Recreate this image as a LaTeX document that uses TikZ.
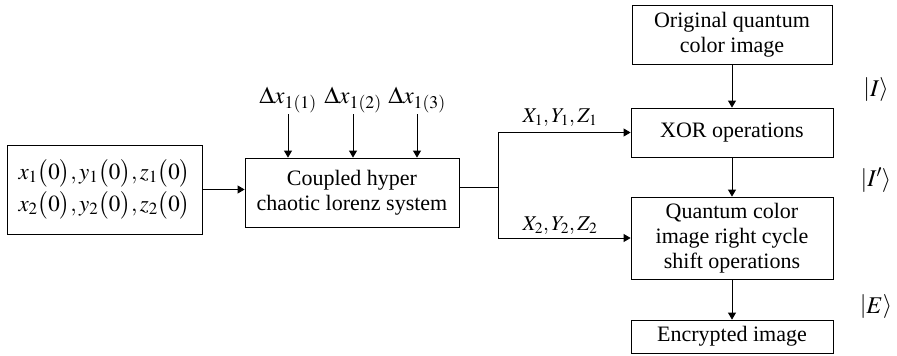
\documentclass[tikz,border=0pt]{standalone}
\usepackage{fix-cm}
\usepackage{mathptmx}
\usepackage{fontspec}
\setmainfont{Liberation Serif}
\usetikzlibrary{arrows.meta}

\begin{document}
\begin{tikzpicture}[x=1pt,y=-1pt,
  >={Triangle[length=7pt,width=8pt]},
  line width=0.8pt,
  box/.style={draw,inner sep=0pt,align=center,font=\fontsize{22}{25}\selectfont},
  lab/.style={inner sep=1pt,font=\fontsize{24}{26}\selectfont},
  sublab/.style={inner sep=1pt,font=\fontsize{21}{24}\selectfont}]
\useasboundingbox (0,0) rectangle (897,356);

\node[box,minimum width=195pt,minimum height=89pt,font=\fontsize{23}{26}\selectfont] (init) at (104.5,189.5)
  {$x_1\bigl(0\bigr),y_1\bigl(0\bigr),z_1\bigl(0\bigr)$\\[3pt]
   $x_2\bigl(0\bigr),y_2\bigl(0\bigr),z_2\bigl(0\bigr)$};
\node[box,minimum width=214pt,minimum height=69pt] (lorenz) at (352,192.5)
  {Coupled hyper\\chaotic lorenz system};
\node[box,minimum width=200pt,minimum height=59pt] (orig) at (732,34.5)
  {Original quantum\\color image};
\node[box,minimum width=202pt,minimum height=49pt] (xor) at (732,132.5)
  {XOR operations};
\node[box,minimum width=202pt,minimum height=82pt] (shift) at (732,238)
  {Quantum color\\image right cycle\\shift operations};
\node[box,minimum width=202pt,minimum height=33pt] (enc) at (732,336.5)
  {Encrypted image};

\node[lab] (d1) at (288,100) {$\Delta x_{1(1)}$};
\node[lab] (d2) at (353,100) {$\Delta x_{1(2)}$};
\node[lab] (d3) at (417,100) {$\Delta x_{1(3)}$};

\node[sublab] (k1) at (560,118) {$X_1,Y_1,Z_1$};
\node[sublab] (k2) at (560,226) {$X_2,Y_2,Z_2$};

\node[lab] (s1) at (876,90) {$\left|I\right\rangle$};
\node[lab] (s2) at (876,180) {$\left|I'\right\rangle$};
\node[lab] (s3) at (876,307) {$\left|E\right\rangle$};

\coordinate (split) at (498,187);

\draw[->] (init.east) -- (init.east -| lorenz.west);
\draw[->] (d1.south) -- (d1.south |- lorenz.north);
\draw[->] (d2.south) -- (d2.south |- lorenz.north);
\draw[->] (d3.south) -- (d3.south |- lorenz.north);
\draw (split -| lorenz.east) -- (split);
\draw[->] (split) -- (split |- xor.west) -- (xor.west);
\draw[->] (split) -- (split |- shift.west) -- (shift.west);
\draw[->] (orig.south) -- (xor.north);
\draw[->] (xor.south) -- (shift.north);
\draw[->] (shift.south) -- (enc.north);
\end{tikzpicture}
\end{document}
